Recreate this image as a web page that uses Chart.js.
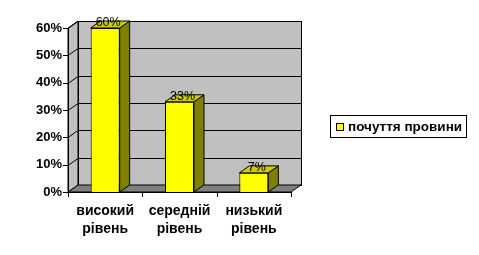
<!DOCTYPE html>
<html>
<head>
<meta charset="utf-8">
<script src="https://cdn.jsdelivr.net/npm/chart.js@4.4.1/dist/chart.umd.min.js"></script>
<style>
    html, body { margin: 0; padding: 0; background: #fff; }
    #wrap { width: 479px; height: 255px; position: relative; }
</style>
</head>
<body>
<div id="wrap"><canvas id="chart" width="479" height="255"></canvas></div>
<script>
// Data
const categories = [['високий', 'рівень'], ['середній', 'рівень'], ['низький', 'рівень']];
const seriesName = 'почуття провини';
const values = [60, 33, 7];
const tickValues = [0, 10, 20, 30, 40, 50, 60];

// depth of the fake 3D
const DX = 10;
const DY = -7;

const wallsPlugin = {
    id: 'walls',
    beforeDatasetsDraw(chart) {
        const ctx = chart.ctx;
        const a = chart.chartArea;
        const y = chart.scales.y;
        const L = a.left, R = a.right, T = a.top, B = a.bottom;
        ctx.save();
        ctx.lineWidth = 1;
        ctx.strokeStyle = '#000';

        // back wall
        ctx.fillStyle = '#c0c0c0';
        ctx.fillRect(L + DX, T + DY, R - L, B - T);
        ctx.strokeRect(L + DX + 0.5, T + DY + 0.5, R - L, B - T);

        // side wall
        ctx.beginPath();
        ctx.moveTo(L, T);
        ctx.lineTo(L + DX, T + DY);
        ctx.lineTo(L + DX, B + DY);
        ctx.lineTo(L, B);
        ctx.closePath();
        ctx.fill();
        ctx.stroke();

        // floor
        ctx.fillStyle = '#808080';
        ctx.beginPath();
        ctx.moveTo(L, B);
        ctx.lineTo(L + DX, B + DY);
        ctx.lineTo(R + DX, B + DY);
        ctx.lineTo(R, B);
        ctx.closePath();
        ctx.fill();
        ctx.stroke();

        // gridlines on the walls
        tickValues.forEach(v => {
            if (v === 0) return;
            const py = Math.round(y.getPixelForValue(v)) + 0.5;
            ctx.beginPath();
            ctx.moveTo(L, py);
            ctx.lineTo(L + DX, py + DY);
            ctx.lineTo(R + DX, py + DY);
            ctx.stroke();
        });

        // front value axis with tick marks
        ctx.beginPath();
        ctx.moveTo(L + 0.5, T);
        ctx.lineTo(L + 0.5, B);
        tickValues.forEach(v => {
            const py = Math.round(y.getPixelForValue(v)) + 0.5;
            ctx.moveTo(L - 5, py);
            ctx.lineTo(L, py);
        });
        ctx.stroke();

        // category axis with tick marks
        const n = categories.length;
        ctx.beginPath();
        ctx.moveTo(L, B + 0.5);
        ctx.lineTo(R, B + 0.5);
        for (let i = 0; i <= n; i++) {
            const px = Math.round(L + (R - L) * i / n) + 0.5;
            ctx.moveTo(px, B);
            ctx.lineTo(px, B + 5);
        }
        ctx.stroke();
        ctx.restore();
    },
    afterDatasetsDraw(chart) {
        const ctx = chart.ctx;
        const meta = chart.getDatasetMeta(0);
        ctx.save();
        ctx.lineWidth = 1;
        ctx.strokeStyle = '#000';
        meta.data.forEach((bar, i) => {
            const p = bar.getProps(['x', 'y', 'base', 'width'], true);
            const l = p.x - p.width / 2, r = p.x + p.width / 2;
            // side face
            ctx.fillStyle = '#808000';
            ctx.beginPath();
            ctx.moveTo(r, p.y);
            ctx.lineTo(r + DX, p.y + DY);
            ctx.lineTo(r + DX, p.base + DY);
            ctx.lineTo(r, p.base);
            ctx.closePath();
            ctx.fill();
            ctx.stroke();
            // top face
            ctx.fillStyle = '#cccc00';
            ctx.beginPath();
            ctx.moveTo(l, p.y);
            ctx.lineTo(l + DX, p.y + DY);
            ctx.lineTo(r + DX, p.y + DY);
            ctx.lineTo(r, p.y);
            ctx.closePath();
            ctx.fill();
            ctx.stroke();
            // value label
            ctx.fillStyle = '#000';
            ctx.font = '12.5px "Liberation Sans", Arial, sans-serif';
            ctx.textAlign = 'center';
            ctx.textBaseline = 'middle';
            ctx.fillText(values[i] + '%', p.x + 3, p.y - 5);
        });

        // legend
        const lx = 330, ly = 115, lw = 136, lh = 22;
        ctx.fillStyle = '#fff';
        ctx.fillRect(lx, ly, lw, lh);
        ctx.strokeRect(lx + 0.5, ly + 0.5, lw, lh);
        ctx.fillStyle = '#ffff00';
        ctx.fillRect(336, 123, 7, 7);
        ctx.strokeRect(336.5, 123.5, 7, 7);
        ctx.fillStyle = '#000';
        ctx.font = 'bold 13.5px "Liberation Sans", Arial, sans-serif';
        ctx.textAlign = 'left';
        ctx.textBaseline = 'middle';
        ctx.fillText(seriesName, 348, 127);
        ctx.restore();
    }
};

new Chart(document.getElementById('chart'), {
    type: 'bar',
    data: {
        labels: categories,
        datasets: [{
            label: seriesName,
            data: values,
            backgroundColor: '#ffff00',
            borderColor: '#000',
            borderWidth: 1,
            barPercentage: 0.39,
            categoryPercentage: 1
        }]
    },
    options: {
        responsive: false,
        animation: false,
        layout: { padding: { left: 0, top: 28, right: 188, bottom: 0 } },
        plugins: {
            legend: { display: false },
            tooltip: { enabled: false }
        },
        scales: {
            x: {
                grid: { display: false, drawTicks: false },
                border: { display: false },
                ticks: {
                    color: '#000',
                    padding: 10,
                    maxRotation: 0,
                    font: { family: '"Liberation Sans", Arial, sans-serif', size: 14, weight: 'bold', lineHeight: '18px' }
                },
                afterFit(scale) { scale.height = 63; }
            },
            y: {
                min: 0,
                max: 60,
                grid: { display: false, drawTicks: false },
                border: { display: false },
                ticks: {
                    stepSize: 10,
                    color: '#000',
                    padding: 6,
                    font: { family: '"Liberation Sans", Arial, sans-serif', size: 13, weight: 'bold' },
                    callback: v => v + '%'
                },
                afterFit(scale) { scale.width = 68; }
            }
        }
    },
    plugins: [wallsPlugin]
});
</script>
</body>
</html>
